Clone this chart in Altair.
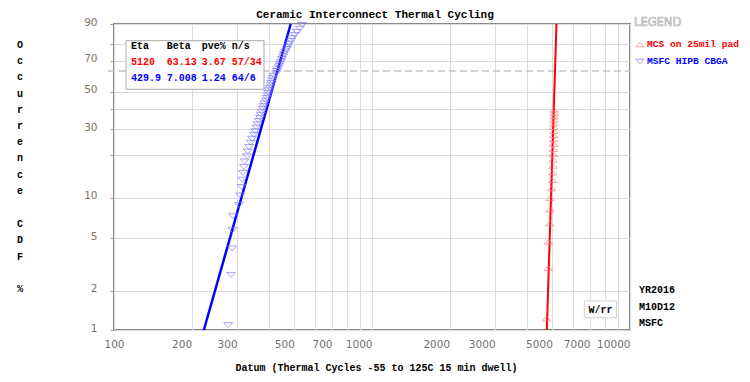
import math
import altair as alt
import pandas as pd

# ---------------- data ----------------
chart_title = "Ceramic Interconnect Thermal Cycling"
x_axis_title = "Datum (Thermal Cycles -55 to 125C 15 min dwell)"
y_axis_title = "Occurrence CDF %"

series_names = ["MCS on 25mil pad", "MSFC HIPB CBGA"]

red_cycles = [4750, 4820, 4830, 4890, 4900, 4910, 4970, 5010, 5020, 5030, 5030, 5040,
              5040, 5050, 5050, 5050, 5060, 5060, 5060, 5070, 5070, 5080, 5080]
red_pct = [1.22, 2.96, 4.70, 6.45, 8.19, 9.93, 11.67, 13.41, 15.16, 16.90, 18.64, 20.38,
           22.13, 23.87, 25.61, 27.35, 29.09, 30.84, 32.58, 34.32, 36.06, 37.80, 39.55]

blue_cycles = [277, 284, 287, 288, 289, 305, 308, 313, 314, 316, 319, 321, 328, 330, 334,
               339, 343, 349, 353, 357, 361, 364, 368, 371, 374, 377, 380, 383, 388, 391,
               394, 396, 398, 401, 404, 407, 410, 413, 417, 425, 428, 432, 436, 440, 444,
               448, 452, 456, 462, 468, 473, 477, 485, 490, 503, 512, 526, 536]
blue_pct = [1.09, 2.64, 4.19, 5.75, 7.30, 8.85, 10.40, 11.96, 13.51, 15.06, 16.61, 18.17,
            19.72, 21.27, 22.83, 24.38, 25.93, 27.48, 29.04, 30.59, 32.14, 33.70, 35.25,
            36.80, 38.35, 39.91, 41.46, 43.01, 44.57, 46.12, 47.67, 49.22, 50.78, 52.33,
            53.88, 55.43, 56.99, 58.54, 60.09, 61.65, 63.20, 64.75, 66.30, 67.86, 69.41,
            70.96, 72.52, 74.07, 75.62, 77.17, 78.73, 80.28, 81.83, 83.39, 84.94, 86.49,
            88.04, 89.60]

red_fit_cycles = [4760, 5188]
red_fit_pct = [1, 90]
blue_fit_cycles = [223, 484]
blue_fit_pct = [1, 90]

eta63_pct = [63.212]

table_header = ["Eta", "Beta", "pve%", "n/s"]
table_red = ["5120", "63.13", "3.67", "57/34"]
table_blue = ["429.9", "7.008", "1.24", "64/6"]

stamp_lines = ["YR2016", "M10D12", "MSFC"]
method_label = "W/rr"
legend_title = "LEGEND"

x_grid_values = [100, 200, 300, 400, 500, 600, 700, 800, 900,
                 1000, 2000, 3000, 4000, 5000, 6000, 7000, 8000, 9000, 10000]
x_label_values = [100, 200, 300, 500, 700, 1000, 2000, 3000, 5000, 7000, 10000]
y_grid_pct = [1, 2, 5, 10, 20, 30, 40, 50, 70, 80, 90]
y_label_pct = [1, 2, 5, 10, 30, 50, 70, 90]

# ---------------- styles ----------------
W, H = 516, 306
MONO = "Liberation Mono"
SANS = "DejaVu Sans"
RED, BLUE = "#ff0000", "#0000ff"
RED_PT, BLUE_PT = "#ff7a7a", "#7a7aff"
TRI_UP = "M-1,0.55L1,0.55L0,-0.55Z"
TRI_DOWN = "M-1,-0.55L1,-0.55L0,0.55Z"


def zval(p):
    return math.log(-math.log(1 - p / 100.0))


z_lo, z_hi = zval(1), zval(90)
y_grid_z = [zval(p) for p in y_grid_pct]
z_expr = "log(-log(1 - datum.pct/100))"
pct_expr = "round(100*(1-exp(-exp(datum.value))))"

x_scale = alt.Scale(type="log", domain=[100, 10000], nice=False)
y_scale = alt.Scale(domain=[z_lo, z_hi], nice=False, zero=False)

x_axis = alt.Axis(
    values=x_grid_values, format="d",
    labelExpr="indexof(%s, datum.value) >= 0 ? datum.label : ''" % str(x_label_values),
    labelAlign={"condition": {"test": "datum.value == 100", "value": "center"}, "value": "right"},
    labelFont=SANS, labelFontSize=10.5, labelColor="#707070", labelPadding=9,
    labelFlush=False, labelOverlap=False,
    ticks=False, domain=False, grid=True, gridColor="#dcdcdc",
    title=x_axis_title, titleFont=MONO, titleFontSize=10, titleFontWeight="bold",
    titleColor="#000000", titleX=262, titleY=37, titleBaseline="middle", titleAlign="center",
)
y_axis = alt.Axis(
    values=y_grid_z,
    labelExpr="indexof(%s, %s) >= 0 ? format(%s, 'd') : ''" % (str(y_label_pct), pct_expr, pct_expr),
    labelFont=SANS, labelFontSize=10.5, labelColor="#7d7468", labelPadding=13, labelOffset=-2,
    labelFlush=False, labelOverlap=False,
    ticks=True, tickSize=4, tickColor="#999999", domain=False, grid=True, gridColor="#dcdcdc",
    title=None,
)

red_df = pd.DataFrame({"cycles": red_cycles, "pct": red_pct})
blue_df = pd.DataFrame({"cycles": blue_cycles, "pct": blue_pct})
red_fit = pd.DataFrame({"cycles": red_fit_cycles, "pct": red_fit_pct})
blue_fit = pd.DataFrame({"cycles": blue_fit_cycles, "pct": blue_fit_pct})
ref_df = pd.DataFrame({"pct": eta63_pct})
dummy = pd.DataFrame({"k": [0]})


def xy():
    return dict(
        x=alt.X("cycles:Q", scale=x_scale, axis=x_axis),
        y=alt.Y("z:Q", scale=y_scale, axis=y_axis),
    )


ref_rule = alt.Chart(ref_df).transform_calculate(z=z_expr).mark_rule(
    color="#c4c4c4", strokeDash=[7, 4], strokeWidth=1.5
).encode(x=alt.value(-6), x2=alt.value(W), y=alt.Y("z:Q", scale=y_scale, axis=y_axis))


def box(x1, y1, x2, y2, stroke):
    return alt.Chart(dummy).mark_rect(fill="white", stroke=stroke, strokeWidth=1).encode(
        x=alt.value(x1), x2=alt.value(x2), y=alt.value(y1), y2=alt.value(y2))


def txt(s, x, y, color="#000000", size=10, font=MONO, weight="bold", align="left",
        baseline="middle", **kw):
    return alt.Chart(dummy).mark_text(
        text=s, align=align, baseline=baseline, font=font, fontSize=size,
        fontWeight=weight, color=color, **kw
    ).encode(x=alt.value(x), y=alt.value(y))


def sym(x, y, shape, color):
    return alt.Chart(dummy).mark_point(shape=shape, size=72, filled=False, color=color,
                                       strokeWidth=1).encode(x=alt.value(x), y=alt.value(y))


red_line = alt.Chart(red_fit).transform_calculate(z=z_expr).mark_line(
    color=RED, strokeWidth=2).encode(**xy())
blue_line = alt.Chart(blue_fit).transform_calculate(z=z_expr).mark_line(
    color=BLUE, strokeWidth=2.5).encode(**xy())
red_pts = alt.Chart(red_df).transform_calculate(z=z_expr).mark_point(
    shape=TRI_UP, size=72, filled=False, color=RED_PT, strokeWidth=1).encode(**xy())
blue_pts = alt.Chart(blue_df).transform_calculate(z=z_expr).mark_point(
    shape=TRI_DOWN, size=80, filled=False, color=BLUE_PT, strokeWidth=1).encode(**xy())

layers = [ref_rule, box(12, 16.7, 150, 65.3, "#a8a8a8")]
col_x = [17, 52.7, 87.7, 117.7]
for row, color, yy in [(table_header, "#000000", 21.7), (table_red, RED, 37.7), (table_blue, BLUE, 53.7)]:
    for s, cx in zip(row, col_x):
        layers.append(txt(s, cx, yy, color=color))

layers += [blue_line, red_line, red_pts, blue_pts]

# W/rr box
layers += [box(470.3, 277, 502.7, 293.7, "#cccccc"), txt(method_label, 486.5, 285.5, align="center")]

# stamp text
for s, yy in zip(stamp_lines, [266.3, 282.7, 298.7]):
    layers.append(txt(s, 525, yy))

# legend
layers.append(txt(legend_title, 520, -1.3, color="white", size=11.5, font=SANS, weight="normal",
                  stroke="#b0b0b0", strokeWidth=0.7))
layers += [sym(526, 20.5, TRI_UP, RED_PT), txt(series_names[0], 533, 20, color=RED, size=9.6),
           sym(526, 37.5, TRI_DOWN, BLUE_PT), txt(series_names[1], 533, 37, color=BLUE, size=9.6)]

# title
layers.append(txt(chart_title, 261, -15.5, size=11, align="center", baseline="top"))

# y title: each word stacked letter by letter
for word, top in zip(y_axis_title.split(" "), [16, 195.3, 259.6]):
    layers.append(txt("\n".join(word), -94, top, size=10, align="center", baseline="top",
                      lineBreak="\n", lineHeight=16.2))

chart = alt.layer(*layers).properties(
    width=W, height=H,
    autosize=alt.AutoSizeParams(type="none"),
    padding={"left": 106, "top": 16, "right": 112, "bottom": 44},
).configure_view(stroke="#8a8a8a", strokeWidth=2)

chart.save("out.html", embed_options={"renderer": "svg", "actions": False})
